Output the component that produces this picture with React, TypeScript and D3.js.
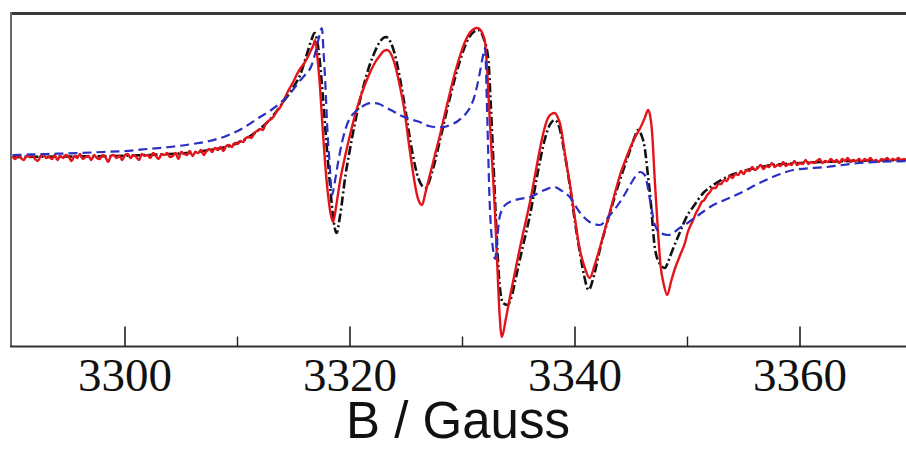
import React from "react";
import * as d3 from "d3";

// Experimental spectrum (red solid): [B / Gauss, intensity a.u.]
const experimental: [number, number][] = [
  [3290.0, 1], [3290.25, -2], [3290.5, 2], [3290.75, -1], [3291.0, -3], [3291.25, 1], [3291.5, 0], [3291.75, 2],
  [3292.0, -2], [3292.25, -4], [3292.5, 1], [3292.75, 3], [3293.0, -1], [3293.25, 0], [3293.5, -2], [3293.75, 2],
  [3294.0, -3], [3294.25, 1], [3294.5, -1], [3294.75, 2], [3295.0, 0], [3295.25, -4], [3295.5, 1], [3295.75, -1],
  [3296.0, 3], [3296.25, -2], [3296.5, 0], [3296.75, 1], [3297.0, -3], [3297.25, 2], [3297.5, -1], [3297.75, -2],
  [3298.0, 2], [3298.25, 0], [3298.5, -5], [3298.75, 1], [3299.0, 2], [3299.25, -1], [3299.5, 1], [3299.75, -3],
  [3300.0, 2], [3300.25, 3], [3300.5, -1], [3300.75, 2], [3301.0, 0], [3301.25, -3], [3301.5, 3], [3301.75, 1],
  [3302.0, 2], [3302.25, -1], [3302.5, 4], [3302.75, 1], [3303.0, -2], [3303.25, 3], [3303.5, 2], [3303.75, 4],
  [3304.0, 0], [3304.25, 1], [3304.5, 4], [3304.75, -2], [3305.0, 5], [3305.25, 3], [3305.5, 2], [3305.75, 6],
  [3306.0, 1], [3306.25, 5], [3306.5, 4], [3306.75, 7], [3307.0, 2], [3307.25, 6], [3307.5, 8], [3307.75, 5],
  [3308.0, 9], [3308.25, 7], [3308.5, 10], [3308.75, 6], [3309.0, 11], [3309.25, 12], [3309.5, 10], [3309.75, 14],
  [3310.0, 13], [3310.25, 16], [3310.5, 15], [3310.75, 19], [3311.0, 20], [3311.25, 19], [3311.5, 24], [3311.75, 26],
  [3312.0, 28], [3312.25, 27], [3312.5, 33], [3312.75, 36], [3313.0, 38], [3313.25, 41], [3313.5, 46], [3313.75, 49],
  [3314.0, 54], [3314.25, 60], [3314.5, 66], [3314.75, 71], [3315.0, 76], [3315.25, 82], [3315.5, 87], [3315.75, 91],
  [3316.0, 95], [3316.25, 100], [3316.5, 106], [3316.75, 112], [3316.9, 117],
  [3317.1, 100], [3317.3, 75], [3317.55, 32], [3317.8, -8], [3318.05, -38], [3318.3, -58], [3318.5, -65],
  [3318.8, -47], [3319.1, -25], [3319.55, 0], [3320.0, 22], [3320.45, 42], [3320.9, 59], [3321.35, 73],
  [3321.8, 85], [3322.25, 95], [3322.7, 102], [3323.0, 106], [3323.3, 107], [3323.6, 104], [3324.0, 92],
  [3324.45, 70], [3324.9, 42], [3325.2, 16], [3325.5, -8], [3325.75, -26], [3326.0, -40], [3326.2, -46],
  [3326.4, -48], [3326.7, -36], [3327.1, -18], [3327.55, 2], [3328.0, 22], [3328.45, 44], [3328.9, 65],
  [3329.35, 85], [3329.8, 102], [3330.25, 116], [3330.7, 125], [3331.0, 128], [3331.3, 129], [3331.6, 127],
  [3332.0, 115], [3332.2, 85], [3332.4, 42], [3332.65, -8], [3332.9, -58], [3333.1, -110], [3333.3, -158],
  [3333.5, -180], [3333.85, -162], [3334.2, -141], [3334.65, -116], [3335.1, -91], [3335.55, -68], [3336.0, -45],
  [3336.45, -18], [3336.9, 9], [3337.25, 27], [3337.6, 39], [3337.9, 43], [3338.2, 44], [3338.45, 40],
  [3338.7, 32], [3339.15, 0], [3339.6, -31], [3340.0, -62], [3340.4, -91], [3340.85, -110], [3341.3, -121],
  [3341.75, -108], [3342.2, -91], [3342.65, -73], [3343.1, -55], [3343.55, -36], [3344.0, -18], [3344.45, -4],
  [3344.9, 9], [3345.35, 20], [3345.8, 29], [3346.2, 39], [3346.5, 47], [3346.7, 40], [3346.85, 25],
  [3347.1, -25], [3347.35, -70], [3347.6, -108], [3347.9, -128], [3348.2, -138], [3348.55, -124], [3348.9, -111],
  [3349.35, -98], [3349.8, -85], [3350.0, -76],
  [3350.25, -69], [3350.5, -63], [3350.75, -56], [3351.0, -51], [3351.25, -45], [3351.5, -43], [3351.75, -38],
  [3352.0, -35], [3352.25, -31], [3352.5, -31], [3352.75, -27], [3353.0, -27], [3353.25, -23], [3353.5, -24],
  [3353.75, -19], [3354.0, -21], [3354.25, -17], [3354.5, -18], [3354.75, -14], [3355.0, -17], [3355.25, -13],
  [3355.5, -14], [3355.75, -10], [3356.0, -13], [3356.25, -11], [3356.5, -8], [3356.75, -12], [3357.0, -9],
  [3357.25, -10], [3357.5, -6], [3357.75, -10], [3358.0, -8], [3358.25, -9], [3358.5, -5], [3358.75, -9],
  [3359.0, -7], [3359.25, -8], [3359.5, -4], [3359.75, -8], [3360.0, -6], [3360.25, -7], [3360.5, -3],
  [3360.75, -7], [3361.0, -5], [3361.25, -6], [3361.5, -4], [3361.75, -2], [3362.0, -6], [3362.25, -4],
  [3362.5, -5], [3362.75, -2], [3363.0, -5], [3363.25, -3], [3363.5, -6], [3363.75, -2], [3364.0, -4],
  [3364.25, -1], [3364.5, -5], [3364.75, -3], [3365.0, -4], [3365.25, -2], [3365.5, -5], [3365.75, -2],
  [3366.0, -4], [3366.25, -1], [3366.5, -4], [3366.75, -3], [3367.0, -5], [3367.25, -2], [3367.5, -3],
  [3367.75, -1], [3368.0, -4], [3368.25, -2], [3368.5, -3], [3368.75, -1], [3369.0, -4], [3369.25, -2],
  [3369.5, -3], [3369.75, -2], [3370.0, -3],
];

// Simulation 1 (black dash-dot)
const simulationA: [number, number][] = [
  [3290, 0], [3293, 0.3], [3296, 0.6], [3299, 1], [3302, 2], [3304, 3], [3306, 4.5], [3307.5, 7], [3309, 10],
  [3310, 14], [3311, 20], [3312, 28], [3313, 39], [3314, 54], [3314.8, 67], [3315.6, 83], [3316.2, 104],
  [3316.6, 118], [3316.85, 124], [3317.1, 115], [3317.35, 92], [3317.6, 59], [3317.9, 15], [3318.2, -25],
  [3318.5, -60], [3318.8, -76], [3319.1, -60], [3319.6, -18], [3320.0, 8], [3320.4, 32], [3320.85, 55],
  [3321.3, 75], [3321.75, 92], [3322.2, 105], [3322.7, 116], [3323.2, 120], [3323.6, 115], [3324.0, 102],
  [3324.45, 78], [3324.9, 49], [3325.5, 7], [3326.1, -22], [3326.7, -31], [3327.3, -15], [3328.0, 17],
  [3328.9, 60], [3329.8, 97], [3330.6, 120], [3331.4, 127], [3331.9, 118], [3332.3, 97], [3332.5, 55],
  [3332.7, 7], [3332.9, -45], [3333.1, -93], [3333.3, -128], [3333.6, -146], [3334.0, -148], [3334.4, -138],
  [3334.7, -123], [3335.35, -90], [3336.0, -58], [3336.65, -18], [3337.3, 17], [3337.75, 32], [3338.2, 37],
  [3338.6, 30], [3339.1, 2], [3339.6, -33], [3340.0, -65], [3340.4, -93], [3340.8, -118], [3341.2, -133],
  [3341.7, -118], [3342.2, -93], [3343.1, -56], [3344.0, -23], [3344.9, 7], [3345.3, 20], [3345.6, 27],
  [3345.9, 22], [3346.2, 9], [3346.45, -15], [3346.7, -41], [3347.1, -91], [3347.5, -106], [3348.0, -111],
  [3348.3, -104], [3348.6, -95], [3349.3, -76], [3350.0, -58], [3350.5, -50], [3351.4, -36], [3352.3, -28],
  [3353.5, -20], [3355, -14], [3357, -9], [3360, -6], [3363, -4.5], [3366, -3.5], [3370, -3],
];

// Simulation 2 (blue dashed)
const simulationB: [number, number][] = [
  [3290, 2], [3293, 3], [3296, 4], [3298, 5], [3300, 6], [3302, 8], [3304, 10], [3306, 13], [3307.5, 16],
  [3309, 21], [3310.5, 29], [3312, 40], [3313, 47], [3313.8, 54], [3314.7, 64], [3315.6, 77], [3316.0, 82],
  [3316.6, 92], [3317.0, 108], [3317.25, 120], [3317.5, 129], [3317.65, 105], [3317.8, 75], [3318.0, 25],
  [3318.2, -8], [3318.4, -38], [3318.65, -25], [3318.9, -8], [3319.3, 15], [3319.6, 28], [3320.0, 39],
  [3320.45, 45], [3320.9, 49], [3321.5, 53], [3322.0, 54], [3322.6, 53], [3323.1, 50], [3323.8, 46],
  [3324.4, 42], [3325.3, 38], [3326.2, 35], [3327.0, 31], [3327.6, 30], [3328.3, 30], [3328.9, 32],
  [3329.6, 36], [3330.2, 42], [3330.7, 50], [3331.1, 62], [3331.5, 82], [3331.8, 100], [3332.0, 109],
  [3332.2, 40], [3332.4, -41], [3332.7, -91], [3332.9, -102], [3333.1, -80], [3333.3, -60], [3333.8, -48],
  [3334.7, -43], [3336.0, -40], [3337.3, -33], [3338.2, -30], [3338.7, -33], [3339.6, -41], [3340.4, -55],
  [3341.3, -65], [3342.2, -68], [3343.1, -58], [3344.0, -45], [3344.9, -28], [3345.4, -19], [3345.8, -15],
  [3346.2, -18], [3346.7, -45], [3347.1, -68], [3347.6, -76], [3348.3, -78], [3349.3, -71], [3350.0, -66],
  [3351.0, -58], [3352.0, -50], [3353.3, -43], [3354.7, -36], [3356.4, -26], [3358, -18], [3359.4, -13],
  [3362.4, -10], [3365.3, -6], [3370, -4],
];

const majorTicks = [3300, 3320, 3340, 3360];
const minorTicks = [3310, 3330, 3350];
const xLabel = "B / Gauss";

export default function App() {
  const W = 906;
  const H = 450;
  const x = d3.scaleLinear().domain([3290, 3370]).range([12.5, 912.5]);
  const y = d3.scaleLinear().domain([-190, 144]).range([347, 13]);
  const line = d3
    .line<[number, number]>()
    .x((d) => x(d[0]))
    .y((d) => y(d[1]))
    .curve(d3.curveMonotoneX);
  const axisY = y(-190) - 0.5;

  return (
    <svg
      width={W}
      height={H}
      style={{ position: "absolute", left: 0, top: 0, background: "#fff" }}
    >
      <path d={line(simulationA) || ""} fill="none" stroke="#111" strokeWidth={2.6} strokeDasharray="9,3,2,3" />
      <path d={line(experimental) || ""} fill="none" stroke="#e4141a" strokeWidth={2.4} strokeLinejoin="round" />
      <path d={line(simulationB) || ""} fill="none" stroke="#2a2fc4" strokeWidth={2.2} strokeDasharray="9,5" />

      {/* frame */}
      <line x1={11} x2={W} y1={13.5} y2={13.5} stroke="#3a3a3a" strokeWidth={3} />
      <line x1={11} x2={11} y1={12} y2={axisY} stroke="#6a6a6a" strokeWidth={2} />
      <line x1={10} x2={W} y1={axisY} y2={axisY} stroke="#333" strokeWidth={2} />

      {majorTicks.map((t) => (
        <g key={"M" + t}>
          <line x1={x(t)} x2={x(t)} y1={axisY - 20} y2={axisY} stroke="#222" strokeWidth={1.6} />
          <text
            x={x(t)}
            y={391}
            textAnchor="middle"
            fontFamily="'Liberation Serif', 'Times New Roman', serif"
            fontSize={47}
            fill="#111"
          >
            {t}
          </text>
        </g>
      ))}
      {minorTicks.map((t) => (
        <line key={"m" + t} x1={x(t)} x2={x(t)} y1={axisY - 10} y2={axisY} stroke="#222" strokeWidth={1.4} />
      ))}
      <text
        x={458}
        y={438}
        textAnchor="middle"
        fontFamily="'Liberation Sans', Arial, sans-serif"
        fontSize={51}
        fill="#111"
      >
        {xLabel}
      </text>
    </svg>
  );
}
